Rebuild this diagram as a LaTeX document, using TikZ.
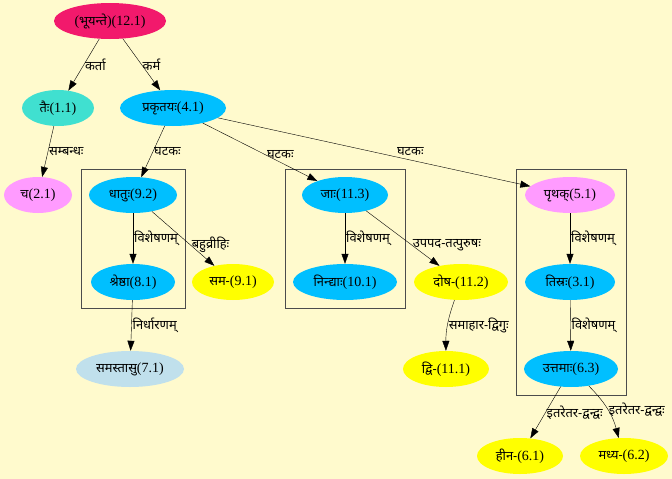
\documentclass[tikz,border=0pt]{standalone}
\usepackage{fontspec}
\setmainfont{Liberation Serif}
\newfontfamily\devfont[Script=Devanagari,Scale=0.92]{Noto Sans}
\usepackage{tikz}
\usetikzlibrary{arrows.meta,shapes.geometric,fit,backgrounds}
\newcommand{\dv}[1]{{\devfont #1}}
\definecolor{bgcol}{RGB}{255,250,205}
\definecolor{rootcol}{RGB}{242,25,108}
\definecolor{tealcol}{RGB}{64,224,208}
\definecolor{pinkcol}{RGB}{255,155,255}
\definecolor{bluecol}{RGB}{0,191,255}
\definecolor{palecol}{RGB}{192,224,236}
\definecolor{yelcol}{RGB}{255,255,0}

\begin{document}
\begin{tikzpicture}[x=1pt,y=-1pt,
  every node/.style={font=\fontsize{14}{16}\selectfont},
  wrd/.style={ellipse,inner sep=0pt,minimum height=36pt},
  edge/.style={-{Triangle[length=10pt,width=7pt]},black},
  lbl/.style={anchor=west,inner sep=1pt},
  cluster/.style={draw=black!70,inner sep=8pt}]
\fill[bgcol] (0,0) rectangle (672,479);
\useasboundingbox (0,0) rectangle (672,479);
\node[wrd,fill=rootcol,minimum width=112pt] (bhuyante) at (110,21) {(\dv{भूयन्ते})(12.1)};
\node[wrd,fill=tealcol,minimum width=72pt] (tai) at (58,108) {\dv{तैः}(1.1)};
\node[wrd,fill=bluecol,minimum width=106pt] (prakrtaya) at (173,108) {\dv{प्रकृतयः}(4.1)};
\node[wrd,fill=pinkcol,minimum width=68pt] (ca) at (38,195) {\dv{च}(2.1)};
\node[wrd,fill=bluecol,minimum width=88pt] (dhatu) at (133,195) {\dv{धातुः}(9.2)};
\node[wrd,fill=bluecol,minimum width=84pt] (shreshtha) at (133,282) {\dv{श्रेष्ठा}(8.1)};
\node[wrd,fill=yelcol,minimum width=82pt] (sama) at (233,282) {\dv{सम-}(9.1)};
\node[wrd,fill=palecol,minimum width=108pt] (samastasu) at (130,369) {\dv{समस्तासु}(7.1)};
\node[wrd,fill=bluecol,minimum width=86pt] (ja) at (345,195) {\dv{जाः}(11.3)};
\node[wrd,fill=bluecol,minimum width=104pt] (nindya) at (345,282) {\dv{निन्द्याः}(10.1)};
\node[wrd,fill=yelcol,minimum width=94pt] (dosha) at (461,282) {\dv{दोष-}(11.2)};
\node[wrd,fill=yelcol,minimum width=86pt] (dvi) at (446,369) {\dv{द्वि-}(11.1)};
\node[wrd,fill=pinkcol,minimum width=90pt] (prthak) at (570,195) {\dv{पृथक्}(5.1)};
\node[wrd,fill=bluecol,minimum width=90pt] (tisra) at (570,282) {\dv{तिस्रः}(3.1)};
\node[wrd,fill=bluecol,minimum width=94pt] (uttama) at (571,369) {\dv{उत्तमाः}(6.3)};
\node[wrd,fill=yelcol,minimum width=86pt] (hina) at (520,456) {\dv{हीन-}(6.1)};
\node[wrd,fill=yelcol,minimum width=88pt] (madhya) at (624,456) {\dv{मध्य-}(6.2)};
\node[cluster,fit=(dhatu)(shreshtha)] (box1) {};
\node[cluster,fit=(ja)(nindya)] (box2) {};
\node[cluster,fit=(prthak)(uttama)] (box3) {};
\draw[edge] (bhuyante) -- node[lbl] {\dv{कर्ता}} (tai);
\draw[edge] (bhuyante) -- node[lbl] {\dv{कर्म}} (prakrtaya);
\draw[edge] (tai) -- node[lbl] {\dv{सम्बन्धः}} (ca);
\draw[edge] (prakrtaya) -- node[lbl] {\dv{घटकः}} (dhatu);
\draw[edge] (prakrtaya) -- node[lbl,pos=0.55] {\dv{घटकः}} (ja);
\draw[edge] (prakrtaya) -- node[lbl,anchor=south west,pos=0.57] {\dv{घटकः}} (prthak);
\draw[edge] (dhatu) -- node[lbl] {\dv{विशेषणम्}} (shreshtha);
\draw[edge] (dhatu) -- node[lbl,pos=0.62] {\dv{बहुव्रीहिः}} (sama);
\draw[edge] (shreshtha) -- node[lbl] {\dv{निर्धारणम्}} (samastasu);
\draw[edge] (ja) -- node[lbl] {\dv{विशेषणम्}} (nindya);
\draw[edge] (ja) -- node[lbl,pos=0.62] {\dv{उपपद-तत्पुरुषः}} (dosha);
\draw[edge] (dosha) to[bend right=10] node[lbl] {\dv{समाहार-द्विगुः}} (dvi);
\draw[edge] (prthak) -- node[lbl] {\dv{विशेषणम्}} (tisra);
\draw[edge] (tisra) -- node[lbl] {\dv{विशेषणम्}} (uttama);
\draw[edge] (uttama) -- node[lbl] {\dv{इतरेतर-द्वन्द्वः}} (hina);
\draw[edge] (uttama) to[bend left=15] node[lbl] {\dv{इतरेतर-द्वन्द्वः}} (madhya);
\end{tikzpicture}
\end{document}
